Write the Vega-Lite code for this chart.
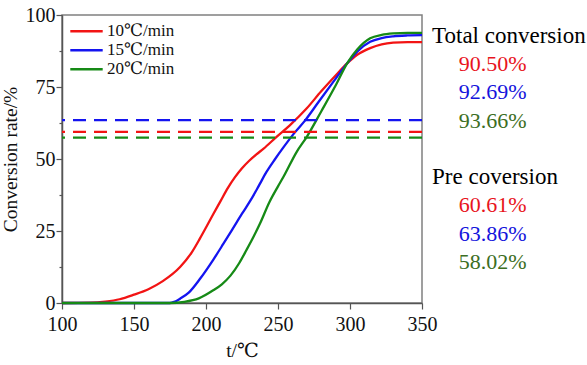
{
  "$schema": "https://vega.github.io/schema/vega-lite/v6.json",
  "width": 360,
  "height": 288,
  "autosize": {"type": "none"},
  "padding": {"left": 62, "top": 15, "right": 165, "bottom": 62},
  "background": "white",
  "config": {
    "font": "Liberation Serif, Times New Roman, DejaVu Serif, serif",
    "view": {"stroke": "#808080", "strokeWidth": 1.5},
    "text": {"font": "Liberation Serif, Times New Roman, DejaVu Serif, serif"},
    "legend": {"labelFont": "Liberation Serif, Times New Roman, DejaVu Serif, serif"},
    "axis": {
      "domainColor": "#555555",
      "domainWidth": 1.5,
      "tickColor": "#555555",
      "tickWidth": 1.2,
      "labelFont": "Liberation Serif, Times New Roman, DejaVu Serif, serif",
      "labelFontSize": 20,
      "labelColor": "#111111",
      "titleFont": "Liberation Serif, Times New Roman, DejaVu Serif, serif",
      "titleFontSize": 19.5,
      "titleFontWeight": "normal",
      "titleColor": "#111111",
      "grid": false
    }
  },
  "datasets": {
    "curves": [
      {"series": "10℃/min", "t": 100, "v": 0},
      {"series": "10℃/min", "t": 120, "v": 0.1},
      {"series": "10℃/min", "t": 130, "v": 0.5},
      {"series": "10℃/min", "t": 140, "v": 1.3},
      {"series": "10℃/min", "t": 150, "v": 2.9},
      {"series": "10℃/min", "t": 160, "v": 4.8},
      {"series": "10℃/min", "t": 170, "v": 7.6},
      {"series": "10℃/min", "t": 182, "v": 12.5},
      {"series": "10℃/min", "t": 190, "v": 17.5},
      {"series": "10℃/min", "t": 196, "v": 22.6},
      {"series": "10℃/min", "t": 200, "v": 26.2},
      {"series": "10℃/min", "t": 205, "v": 30.8},
      {"series": "10℃/min", "t": 210, "v": 35.3},
      {"series": "10℃/min", "t": 215, "v": 39.8},
      {"series": "10℃/min", "t": 220, "v": 43.6},
      {"series": "10℃/min", "t": 225, "v": 46.8},
      {"series": "10℃/min", "t": 230, "v": 49.4},
      {"series": "10℃/min", "t": 235, "v": 51.6},
      {"series": "10℃/min", "t": 240, "v": 53.6},
      {"series": "10℃/min", "t": 249, "v": 57.7},
      {"series": "10℃/min", "t": 258, "v": 61.6},
      {"series": "10℃/min", "t": 270, "v": 67.6},
      {"series": "10℃/min", "t": 280, "v": 73.5},
      {"series": "10℃/min", "t": 290, "v": 79},
      {"series": "10℃/min", "t": 298, "v": 83.2},
      {"series": "10℃/min", "t": 305, "v": 86.2},
      {"series": "10℃/min", "t": 314, "v": 88.5},
      {"series": "10℃/min", "t": 322, "v": 89.8},
      {"series": "10℃/min", "t": 330, "v": 90.4},
      {"series": "10℃/min", "t": 340, "v": 90.6},
      {"series": "10℃/min", "t": 350, "v": 90.6},
      {"series": "15℃/min", "t": 100, "v": 0},
      {"series": "15℃/min", "t": 175, "v": 0},
      {"series": "15℃/min", "t": 178, "v": 0.4},
      {"series": "15℃/min", "t": 182, "v": 1.5},
      {"series": "15℃/min", "t": 188, "v": 3.6},
      {"series": "15℃/min", "t": 196, "v": 8.5},
      {"series": "15℃/min", "t": 205, "v": 15},
      {"series": "15℃/min", "t": 212, "v": 20.5},
      {"series": "15℃/min", "t": 218, "v": 25.3},
      {"series": "15℃/min", "t": 225, "v": 31},
      {"series": "15℃/min", "t": 231, "v": 35.7},
      {"series": "15℃/min", "t": 237, "v": 41},
      {"series": "15℃/min", "t": 242, "v": 45.5},
      {"series": "15℃/min", "t": 248, "v": 50},
      {"series": "15℃/min", "t": 254, "v": 54.2},
      {"series": "15℃/min", "t": 261, "v": 58.8},
      {"series": "15℃/min", "t": 269, "v": 63.5},
      {"series": "15℃/min", "t": 278, "v": 69.7},
      {"series": "15℃/min", "t": 288, "v": 76.5},
      {"series": "15℃/min", "t": 298, "v": 83.2},
      {"series": "15℃/min", "t": 305, "v": 87.3},
      {"series": "15℃/min", "t": 314, "v": 90.7},
      {"series": "15℃/min", "t": 322, "v": 92},
      {"series": "15℃/min", "t": 330, "v": 92.6},
      {"series": "15℃/min", "t": 340, "v": 92.9},
      {"series": "15℃/min", "t": 350, "v": 93},
      {"series": "20℃/min", "t": 100, "v": 0},
      {"series": "20℃/min", "t": 175, "v": 0},
      {"series": "20℃/min", "t": 185, "v": 0.4},
      {"series": "20℃/min", "t": 195, "v": 1.6},
      {"series": "20℃/min", "t": 205, "v": 4.4},
      {"series": "20℃/min", "t": 211, "v": 6.5},
      {"series": "20℃/min", "t": 217, "v": 9.5},
      {"series": "20℃/min", "t": 223, "v": 13.8},
      {"series": "20℃/min", "t": 228, "v": 18.3},
      {"series": "20℃/min", "t": 233, "v": 23},
      {"series": "20℃/min", "t": 237.5, "v": 27.6},
      {"series": "20℃/min", "t": 244, "v": 35},
      {"series": "20℃/min", "t": 250, "v": 40.5},
      {"series": "20℃/min", "t": 254, "v": 44},
      {"series": "20℃/min", "t": 263, "v": 52.5},
      {"series": "20℃/min", "t": 270, "v": 57.7},
      {"series": "20℃/min", "t": 280, "v": 66.5},
      {"series": "20℃/min", "t": 290, "v": 75.5},
      {"series": "20℃/min", "t": 298, "v": 83.2},
      {"series": "20℃/min", "t": 305, "v": 88},
      {"series": "20℃/min", "t": 314, "v": 91.9},
      {"series": "20℃/min", "t": 322, "v": 93.1},
      {"series": "20℃/min", "t": 330, "v": 93.6},
      {"series": "20℃/min", "t": 340, "v": 93.8},
      {"series": "20℃/min", "t": 350, "v": 93.8}
    ],
    "pre": [
      {"series": "10℃/min", "level": 59.4},
      {"series": "15℃/min", "level": 63.5},
      {"series": "20℃/min", "level": 57.4}
    ],
    "heads": [
      {"label": "Total conversion"},
      {"label": "Pre coversion"}
    ],
    "notes": [
      {"series": "10℃/min", "label": "90.50%"},
      {"series": "15℃/min", "label": "92.69%"},
      {"series": "20℃/min", "label": "93.66%"},
      {"series": "10℃/min", "label": "60.61%"},
      {"series": "15℃/min", "label": "63.86%"},
      {"series": "20℃/min", "label": "58.02%"}
    ]
  },
  "layer": [
    {
      "data": {"name": "curves"},
      "mark": {"type": "line", "strokeWidth": 2.3, "interpolate": "monotone"},
      "encoding": {
        "x": {
          "field": "t", "type": "quantitative",
          "scale": {"domain": [100, 350], "nice": false, "zero": false},
          "axis": {
            "title": "t/℃",
            "values": [100, 125, 150, 175, 200, 225, 250, 275, 300, 325, 350],
            "labelExpr": "datum.value % 50 === 0 ? datum.label : ''",
            "tickSize": {"condition": {"test": "datum.value % 50 === 0", "value": 6}, "value": 3},
            "labelPadding": 5,
            "titlePadding": 7,
            "labelFlush": false
          }
        },
        "y": {
          "field": "v", "type": "quantitative",
          "scale": {"domain": [0, 100], "nice": false},
          "axis": {
            "title": "Conversion rate/%",
            "values": [0, 12.5, 25, 37.5, 50, 62.5, 75, 87.5, 100],
            "labelExpr": "datum.value % 25 === 0 ? datum.label : ''",
            "tickSize": {"condition": {"test": "datum.value % 25 === 0", "value": 6}, "value": 3},
            "labelPadding": 1,
            "titlePadding": 5,
            "labelFlush": false
          }
        },
        "color": {
          "field": "series", "type": "nominal",
          "scale": {"domain": ["10℃/min", "15℃/min", "20℃/min"], "range": ["#f21414", "#1414f0", "#168a16"]},
          "legend": {
            "title": null,
            "orient": "top-left",
            "offset": 7,
            "padding": 0,
            "symbolType": "stroke",
            "symbolSize": 1050,
            "symbolStrokeWidth": 2.3,
            "labelFontSize": 17,
            "labelColor": "#111111",
            "labelOffset": 3,
            "clipHeight": 18.5,
            "rowPadding": 0
          }
        }
      }
    },
    {
      "data": {"name": "pre"},
      "mark": {"type": "rule", "strokeWidth": 2.3, "strokeDash": [13, 8]},
      "encoding": {
        "y": {"field": "level", "type": "quantitative", "scale": {"domain": [0, 100], "nice": false}, "axis": null},
        "color": {
          "field": "series", "type": "nominal",
          "scale": {"domain": ["10℃/min", "15℃/min", "20℃/min"], "range": ["#f21414", "#1414f0", "#168a16"]},
          "legend": null
        }
      }
    },
    {
      "layer": [
        {
          "data": {"name": "heads"},
          "mark": {"type": "text", "fontSize": 23, "align": "left", "baseline": "middle", "dy": 4, "color": "#000000"},
          "encoding": {
            "x": {"datum": 357, "type": "quantitative", "scale": {"domain": [100, 350], "nice": false, "zero": false}},
            "y": {
              "field": "label", "type": "ordinal",
              "scale": {"type": "point", "domain": ["Total conversion", "90.50%", "92.69%", "93.66%", " ", "Pre coversion", "60.61%", "63.86%", "58.02%", "  "], "padding": 0.6},
              "axis": null
            },
            "text": {"field": "label"}
          }
        },
        {
          "data": {"name": "notes"},
          "mark": {"type": "text", "fontSize": 22, "align": "center", "baseline": "middle", "dy": 4},
          "encoding": {
            "x": {"datum": 399, "type": "quantitative", "scale": {"domain": [100, 350], "nice": false, "zero": false}},
            "y": {
              "field": "label", "type": "ordinal",
              "scale": {"type": "point", "domain": ["Total conversion", "90.50%", "92.69%", "93.66%", " ", "Pre coversion", "60.61%", "63.86%", "58.02%", "  "], "padding": 0.6},
              "axis": null
            },
            "text": {"field": "label"},
            "color": {
              "field": "series", "type": "nominal",
              "scale": {"domain": ["10℃/min", "15℃/min", "20℃/min"], "range": ["#e8141c", "#1414dc", "#3c6e23"]},
              "legend": null
            }
          }
        }
      ]
    }
  ],
  "resolve": {"scale": {"y": "independent", "color": "independent"}}
}
